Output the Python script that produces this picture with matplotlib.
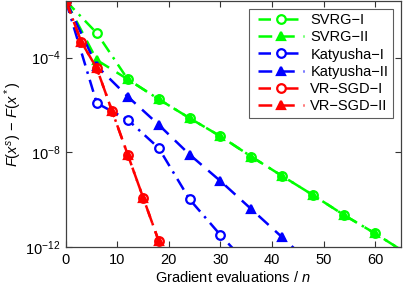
import numpy as np
import matplotlib
matplotlib.use("Agg")
import matplotlib.pyplot as plt
from matplotlib.lines import Line2D
from matplotlib.legend_handler import HandlerLine2D

plt.rcParams['font.family'] = ['Liberation Sans', 'DejaVu Sans']
plt.rcParams['mathtext.fontset'] = 'custom'
plt.rcParams['mathtext.rm'] = 'Liberation Sans'
plt.rcParams['mathtext.it'] = 'Liberation Sans:italic'
plt.rcParams['mathtext.sf'] = 'Liberation Sans'

# ---- data (log10 of F(x^s) - F(x^*)) ----
svrg1_x = [0, 6, 12, 18, 24, 30, 36, 42, 48, 54, 60, 66]
svrg1_y = [-1.6, -2.96, -4.91, -5.75, -6.55, -7.32, -8.18, -9.0, -9.81, -10.65, -11.42, -12.25]
svrg2_x = [0, 6, 12, 18, 24, 30, 36, 42, 48, 54, 60, 66]
svrg2_y = [-1.6, -4.1, -4.91, -5.75, -6.55, -7.32, -8.18, -9.0, -9.81, -10.65, -11.42, -12.25]
kat1_x = [0, 6, 12, 18, 24, 30, 36]
kat1_y = [-1.6, -5.92, -6.62, -7.81, -9.98, -11.49, -12.9]
kat2_x = [0, 6, 12, 18, 24, 30, 36, 42, 48]
kat2_y = [-1.6, -4.35, -5.64, -6.83, -8.09, -9.21, -10.4, -11.59, -12.8]
vr1_x = [0, 3, 6, 9, 12, 15, 18, 21]
vr1_y = [-1.6, -3.33, -4.45, -6.27, -8.09, -9.91, -11.73, -13.5]
vr2_x = [0, 3, 6, 9, 12, 15, 18, 21]
vr2_y = [-1.6, -3.33, -4.45, -6.27, -8.09, -9.91, -11.73, -13.5]

labels = ['SVRG−I', 'SVRG−II', 'Katyusha−I', 'Katyusha−II', 'VR−SGD−I', 'VR−SGD−II']
xticks = [0, 10, 20, 30, 40, 50, 60]
yticks = [1e-12, 1e-8, 1e-4]

FS = 10.5

fig = plt.figure(figsize=(4.09, 2.87), dpi=100)
ax = fig.add_axes([0.161, 0.139, 0.819, 0.858])

series = [
    (svrg1_x, svrg1_y, (0, 1, 0), 'o', 'dashdot', 'none'),
    (svrg2_x, svrg2_y, (0, 1, 0), '^', 'dashed', 'fill'),
    (kat1_x, kat1_y, (0, 0, 1), 'o', 'dashdot', 'none'),
    (kat2_x, kat2_y, (0, 0, 1), '^', 'dashed', 'fill'),
    (vr1_x, vr1_y, (1, 0, 0), 'o', 'dashdot', 'none'),
    (vr2_x, vr2_y, (1, 0, 0), '^', 'dashed', 'fill'),
]
for (xs, ys, c, m, ls, fill), lab in zip(series, labels):
    if ls == 'dashdot':
        dashes = (5, 2.5, 1, 2.5)
    else:
        dashes = (5.5, 3.5)
    ax.plot(xs, 10.0 ** np.array(ys), color=c, marker=m, linewidth=1.8,
            dashes=dashes, markersize=6.2, markeredgewidth=1.6,
            markerfacecolor=(c if fill == 'fill' else 'white'),
            markeredgecolor=c, label=lab)

ax.set_yscale('log')
ax.set_xlim(0, 65)
ax.set_ylim(1e-12, 10 ** -1.6)
ax.set_xticks(xticks)
ax.set_yticks(yticks)
ax.minorticks_off()
ax.tick_params(direction='in', top=True, right=True, length=4, width=0.8,
               labelsize=FS, color='0.2', pad=4)
for s in ax.spines.values():
    s.set_color('0.25')
    s.set_linewidth(0.9)

ax.set_xlabel('Gradient evaluations / $n$', fontsize=FS, labelpad=2.5)
ax.set_ylabel(r'$F(x^s)\,-\,F(x^*)$', fontsize=FS, labelpad=1)

leg = ax.legend(loc='upper right', fontsize=FS, handlelength=3.47,
                frameon=True, fancybox=False, borderpad=0.3,
                labelspacing=0.22, handletextpad=0.45, borderaxespad=0,
                bbox_to_anchor=(0.976, 0.968),
                handler_map={Line2D: HandlerLine2D(xpad=0.32)})
leg.get_frame().set_edgecolor('0.2')
leg.get_frame().set_linewidth(0.8)

fig.savefig('out.png', dpi=100)
